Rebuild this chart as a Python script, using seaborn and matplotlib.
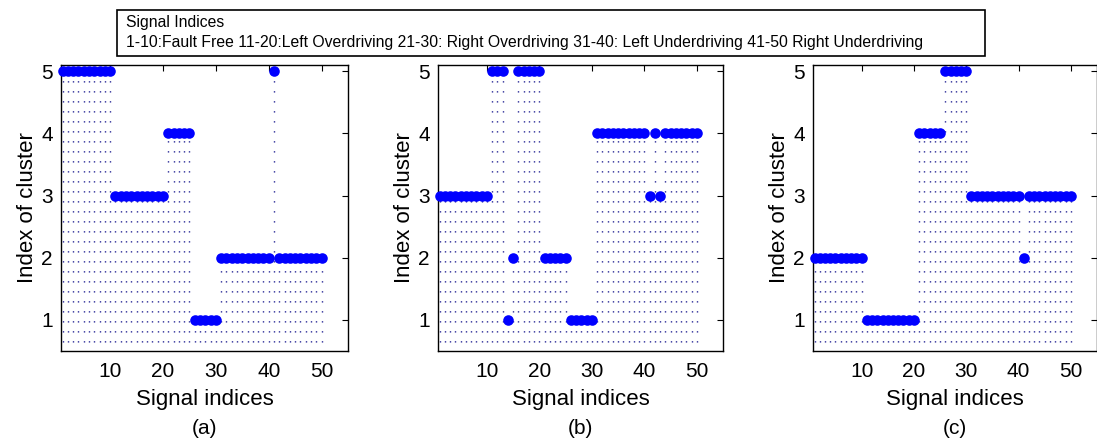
import numpy as np
import pandas as pd
import matplotlib
matplotlib.use("Agg")
import matplotlib.pyplot as plt
from matplotlib.patches import Rectangle
import seaborn as sns

sns.set_theme(style="white")
plt.rcParams['font.family'] = ['Liberation Sans', 'DejaVu Sans']
plt.rcParams['text.color'] = 'black'
plt.rcParams['axes.labelcolor'] = 'black'

# ---- data ----
signal_idx = list(range(1, 51))
cluster_a = [5]*10 + [3]*10 + [4]*5 + [1]*5 + [2]*10 + [5] + [2]*9
cluster_b = [3]*10 + [5]*3 + [1] + [2] + [5]*5 + [2]*5 + [1]*5 + [4]*10 + [3, 4, 3] + [4]*7
cluster_c = [2]*10 + [1]*10 + [4]*5 + [5]*5 + [3]*10 + [2] + [3]*9
panel_labels = ["(a)", "(b)", "(c)"]
xticks = [10, 20, 30, 40, 50]
yticks = [1, 2, 3, 4, 5]
xlabel = "Signal indices"
ylabel = "Index of cluster"
legend_title = "Signal Indices"
legend_text = ("1-10:Fault Free 11-20:Left Overdriving 21-30: Right Overdriving "
               "31-40: Left Underdriving 41-50 Right Underdriving")

W, H = 1097, 443
fig = plt.figure(figsize=(W/100, H/100), dpi=100)

lefts = [61, 438, 813]
widths = [287, 285, 284]
bottom_px, top_px = 351, 65

for i, (vals, lab) in enumerate(zip([cluster_a, cluster_b, cluster_c], panel_labels)):
    ax = fig.add_axes([lefts[i]/W, (H-bottom_px)/H, widths[i]/W, (bottom_px-top_px)/H])
    df = pd.DataFrame({"x": signal_idx, "y": vals})
    ax.vlines(df["x"], 0.0, df["y"], colors="#10108a", linewidth=1.0,
              linestyles=[(0, (0.9, 6.3))], zorder=1)
    sns.scatterplot(data=df, x="x", y="y", ax=ax, color="#0000ff", s=58,
                    edgecolor="#0000ff", linewidth=0, zorder=3, clip_on=False)
    ax.set_xlim(0.7, 55)
    ax.set_ylim(0.5, 5.1)
    ax.set_xticks(xticks)
    ax.set_yticks(yticks)
    ax.tick_params(direction="in", top=True, right=True, length=4, width=0.8,
                   labelsize=15, colors="black", pad=8)
    ax.tick_params(axis="y", pad=6)
    for sp in ax.spines.values():
        sp.set_color("black")
        sp.set_linewidth(1.0)
    ax.set_xlabel(xlabel, fontsize=16, labelpad=6, color="black")
    ax.set_ylabel(ylabel, fontsize=16, labelpad=2, color="black")
    cx = (lefts[i] + widths[i]/2) / W
    fig.text(cx, 1 - 428/H, lab, ha="center", va="center", fontsize=15, color="black")

# legend box at top
fig.patches.append(Rectangle((117/W, 1-56/H), (985-117)/W, (56-10)/H,
                             transform=fig.transFigure, fill=False,
                             edgecolor="black", linewidth=1.2))
fig.text(126/W, 1-22/H, legend_title, ha="left", va="center", fontsize=11.3,
         color="black")
fig.text(126/W, 1-42/H, legend_text, ha="left", va="center", fontsize=11.3,
         color="black")

fig.savefig("out.png", dpi=100, facecolor="white")
